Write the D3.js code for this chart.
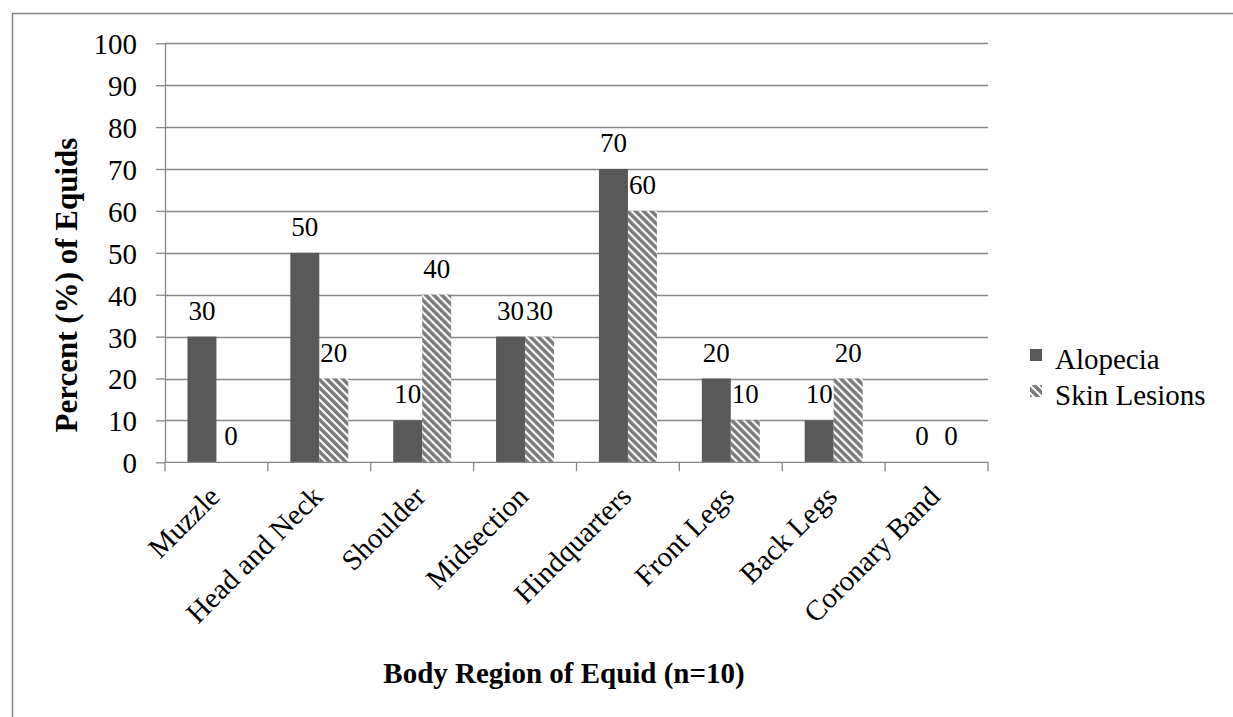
<!DOCTYPE html>
<html>
<head>
<meta charset="utf-8">
<script src="https://cdn.jsdelivr.net/npm/d3@7"></script>
<style>
  body { margin: 0; background: #fff; }
</style>
</head>
<body>
<div id="chart"></div>
<script>
// chart data
var regions = ["Muzzle", "Head and Neck", "Shoulder", "Midsection", "Hindquarters", "Front Legs", "Back Legs", "Coronary Band"];
var seriesNames = ["Alopecia", "Skin Lesions"];
var alopecia = [30, 50, 10, 30, 70, 20, 10, 0];
var skinLesions = [0, 20, 40, 30, 60, 10, 20, 0];
var yTicks = [0, 10, 20, 30, 40, 50, 60, 70, 80, 90, 100];

var W = 1233, H = 717;
var plot = {left: 165, right: 988, top: 43.3, bottom: 462.3};
var fontSize = "29px";
var serif = "'Liberation Serif'";
var gray = "#868686";

var svg = d3.select("#chart").append("svg")
  .attr("width", W).attr("height", H);

// hatch pattern (wide downward diagonal)
var defs = svg.append("defs");
var pat = defs.append("pattern")
  .attr("id", "hatch")
  .attr("patternUnits", "userSpaceOnUse")
  .attr("width", 8).attr("height", 8);
pat.append("rect").attr("width", 8).attr("height", 8).attr("fill", "#fff");
pat.append("path")
  .attr("d", "M-4,4 L4,12 M0,0 L8,8 M4,-4 L12,4")
  .attr("stroke", "#7a7a7a")
  .attr("stroke-width", 3.6);

// outer frame
svg.append("rect")
  .attr("x", 12.5).attr("y", 13.5)
  .attr("width", 1400).attr("height", 900)
  .attr("fill", "none")
  .attr("stroke", gray)
  .attr("stroke-width", 1.5);

var y = d3.scaleLinear().domain([0, 100]).range([plot.bottom, plot.top]);
var x0 = d3.scaleBand().domain(regions).range([plot.left, plot.right]).padding(0);
var x1 = d3.scaleBand().domain(seriesNames).range([0, x0.bandwidth()])
  .paddingInner(0).paddingOuter(0.774);

// gridlines
svg.append("g").selectAll("line")
  .data(yTicks.slice(1))
  .enter().append("line")
  .attr("x1", plot.left).attr("x2", plot.right)
  .attr("y1", function(d) { return Math.round(y(d)) + 0.5; })
  .attr("y2", function(d) { return Math.round(y(d)) + 0.5; })
  .attr("stroke", gray).attr("stroke-width", 1.3);

// bars
var data = regions.map(function(r, i) {
  return {region: r, values: [
    {key: "Alopecia", value: alopecia[i]},
    {key: "Skin Lesions", value: skinLesions[i]}
  ]};
});

var groups = svg.append("g").selectAll("g")
  .data(data)
  .enter().append("g")
  .attr("transform", function(d) { return "translate(" + x0(d.region) + ",0)"; });

groups.selectAll("rect")
  .data(function(d) { return d.values; })
  .enter().append("rect")
  .attr("x", function(d) { return x1(d.key); })
  .attr("width", x1.bandwidth())
  .attr("y", function(d) { return y(d.value); })
  .attr("height", function(d) { return y(0) - y(d.value); })
  .attr("fill", function(d) { return d.key === "Alopecia" ? "#595959" : "url(#hatch)"; });

// data labels
groups.selectAll("text")
  .data(function(d) { return d.values; })
  .enter().append("text")
  .attr("x", function(d) { return x1(d.key) + x1.bandwidth() / 2; })
  .attr("y", function(d) { return y(d.value) - 17; })
  .attr("text-anchor", "middle")
  .style("font-family", serif)
  .style("font-size", "27px")
  .text(function(d) { return d.value; });

// y axis
var yAxis = svg.append("g")
  .attr("transform", "translate(" + plot.left + ",0)")
  .call(d3.axisLeft(y).tickValues(yTicks).tickSize(9).tickPadding(19).tickSizeOuter(0));
yAxis.select(".domain").attr("stroke", gray).attr("stroke-width", 1.3);
yAxis.selectAll(".tick line").attr("stroke", gray).attr("stroke-width", 1.3);
yAxis.selectAll(".tick text")
  .attr("dy", "0.36em")
  .style("font-size", fontSize)
  .style("font-family", serif)
  .attr("fill", "#000");

// x axis line and boundary ticks
svg.append("line")
  .attr("x1", plot.left).attr("x2", plot.right)
  .attr("y1", plot.bottom).attr("y2", plot.bottom)
  .attr("stroke", gray).attr("stroke-width", 1.3);
var bounds = regions.map(function(r) { return x0(r); }).concat([plot.right]);
svg.append("g").selectAll("line")
  .data(bounds)
  .enter().append("line")
  .attr("x1", function(d) { return d; }).attr("x2", function(d) { return d; })
  .attr("y1", plot.bottom).attr("y2", plot.bottom + 9)
  .attr("stroke", gray).attr("stroke-width", 1.3);

// category labels
svg.append("g").selectAll("text")
  .data(regions)
  .enter().append("text")
  .attr("transform", function(d) {
    return "translate(" + (x0(d) + x0.bandwidth() / 2 + 5) + "," + (plot.bottom + 36) + ") rotate(-45)";
  })
  .attr("text-anchor", "end")
  .style("font-family", serif)
  .style("font-size", fontSize)
  .text(function(d) { return d; });

// axis titles
svg.append("text")
  .attr("transform", "translate(77,285) rotate(-90)")
  .attr("text-anchor", "middle")
  .style("font-family", serif)
  .style("font-size", "31px")
  .style("font-weight", 700)
  .text("Percent (%) of Equids");

svg.append("text")
  .attr("x", 564).attr("y", 683)
  .attr("text-anchor", "middle")
  .style("font-family", serif)
  .style("font-size", fontSize)
  .style("font-weight", 700)
  .text("Body Region of Equid (n=10)");

// legend
var legend = svg.append("g").selectAll("g")
  .data(seriesNames)
  .enter().append("g")
  .attr("transform", function(d, i) { return "translate(1030," + (369 + i * 36) + ")"; });
legend.append("rect")
  .attr("x", 0).attr("y", -20)
  .attr("width", 12).attr("height", 12)
  .attr("fill", function(d) { return d === "Alopecia" ? "#595959" : "url(#hatch)"; });
legend.append("text")
  .attr("x", 25).attr("y", 0)
  .style("font-family", serif)
  .style("font-size", fontSize)
  .text(function(d) { return d; });
</script>
</body>
</html>
